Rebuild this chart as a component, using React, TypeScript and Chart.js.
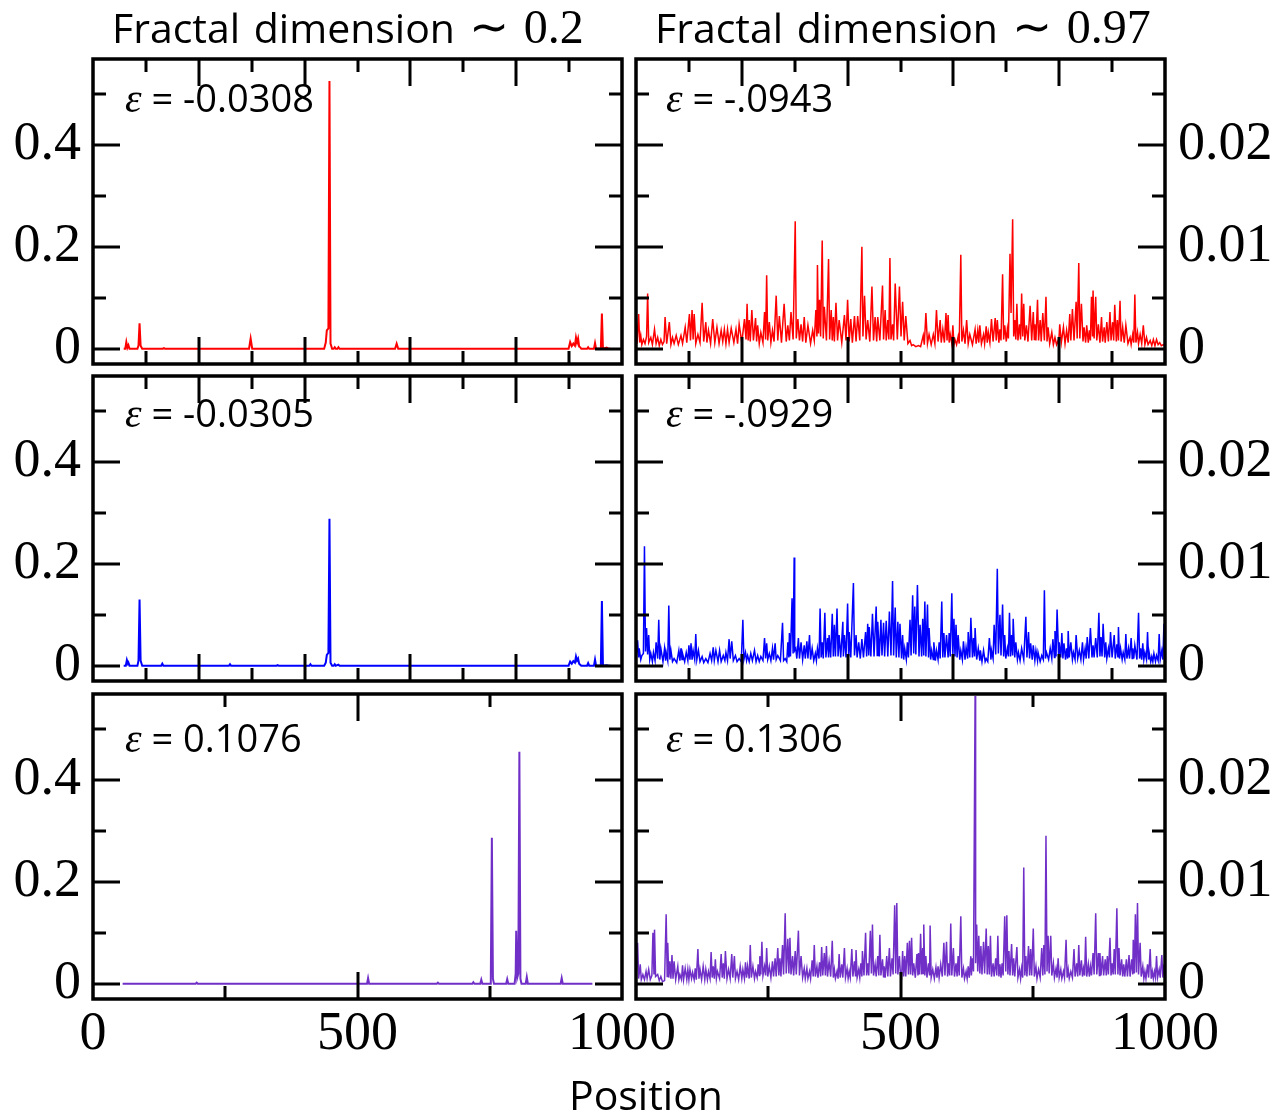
import { useEffect, useRef } from 'react';
import { Chart, registerables } from 'chart.js';

Chart.register(...registerables);

// ---------------- data ----------------
// x axis (position along the chain)
const X_TICKS_UPPER = [0, 100, 200, 300, 400, 500, 600, 700, 800, 900, 1000];
const X_MAJOR_UPPER = [200, 400, 600, 800];
const X_TICKS_LOWER = [0, 250, 500, 750, 1000];
const X_MAJOR_LOWER = [500];
const X_LABEL_VALUES_LEFT = [0, 500, 1000];
const X_LABELS_LEFT = ['0', '500', '1000'];
const X_LABEL_VALUES_RIGHT = [500, 1000];
const X_LABELS_RIGHT = ['500', '1000'];
const X_TITLE = 'Position';

// y axes
const Y_RANGE_LEFT = [-0.03, 0.568];
const Y_TICKS_LEFT = [0, 0.1, 0.2, 0.3, 0.4, 0.5];
const Y_MAJOR_LEFT = [0, 0.2, 0.4];
const Y_LABELS_LEFT = ['0', '0.2', '0.4'];
const Y_RANGE_RIGHT = [-0.0015, 0.0284];
const Y_TICKS_RIGHT = [0, 0.005, 0.01, 0.015, 0.02, 0.025];
const Y_MAJOR_RIGHT = [0, 0.01, 0.02];
const Y_LABELS_RIGHT = ['0', '0.01', '0.02'];

// column titles and panel annotations
const TITLE_TEXT = ['Fractal dimension', 'Fractal dimension'];
const TITLE_VALUE = ['\u223C 0.2', '\u223C 0.97'];
const EPS_LEFT = ['-0.0308', '-0.0305', '0.1076'];
const EPS_RIGHT = ['-.0943', '-.0929', '0.1306'];

// series: [position, value]
const RED_LEFT: [number, number][] = [
  [58, 0], [61, 0], [63, 0.013], [65, 0.002], [67, 0.007], [69, 0], [84, 0], [86, 0.006], [88, 0.05], [90, 0.006], [93, 0],
  [132, 0], [134, 0.001], [136, 0], [295, 0], [298, 0.02], [301, 0], [437, 0], [440, 0.012], [442, 0.036], [445, 0.04],
  [447, 0.525], [449, 0.01], [452, 0], [455, 0], [457, 0.003], [459, 0], [462, 0], [464, 0.003], [466, 0], [571, 0],
  [574, 0.01], [577, 0], [899, 0], [902, 0.013], [905, 0.005], [908, 0.01], [911, 0.006], [913, 0.022], [915, 0.012],
  [917, 0.02], [919, 0.004], [921, 0.003], [923, 0], [934, 0], [936, 0.003], [938, 0], [947, 0], [949, 0.011], [951, 0],
  [960, 0], [962, 0.069], [964, 0], [971, 0.002], [974, 0], [978, 0],
];

const BLUE_LEFT: [number, number][] = [
  [58, 0], [62, 0], [64, 0.011], [66, 0.004], [67, 0.006], [69, 0], [84, 0], [86, 0.01], [88, 0.13], [90, 0.01], [93, 0],
  [129, 0], [131, 0.004], [133, 0], [257, 0], [259, 0.003], [261, 0], [347, 0], [349, 0.001], [351, 0], [409, 0],
  [411, 0.003], [413, 0], [437, 0], [440, 0.006], [442, 0.021], [445, 0.025], [447, 0.288], [449, 0.006], [452, 0],
  [455, 0], [457, 0.003], [459, 0], [464, 0.002], [466, 0], [899, 0], [902, 0.008], [905, 0.004], [908, 0.009],
  [911, 0.006], [913, 0.018], [915, 0.01], [917, 0.014], [919, 0.004], [921, 0.002], [923, 0], [934, 0], [936, 0.005],
  [938, 0], [947, 0], [949, 0.012], [951, 0], [960, 0], [962, 0.127], [964, 0], [971, 0.001], [974, 0], [978, 0],
];

const PURPLE_LEFT: [number, number][] = [
  [56, 0], [194, 0], [196, 0.002], [198, 0], [518, 0], [520, 0.011], [522, 0], [650, 0], [652, 0.002], [654, 0],
  [717, 0], [719, 0.003], [721, 0], [732, 0], [734, 0.008], [736, 0], [751, 0], [752, 0.01], [754, 0.286], [756, 0.01],
  [758, 0], [781, 0], [783, 0.009], [785, 0], [797, 0], [799, 0.02], [800, 0.104], [802, 0.012], [804, 0.02],
  [806, 0.455], [808, 0.01], [810, 0], [818, 0], [820, 0.013], [822, 0], [884, 0], [886, 0.011], [888, 0], [944, 0],
];

const RED_RIGHT: [number, number][] = [
  [0, .0036], [2, .0005], [5, .0034], [7, .0006], [9, .0013], [11, .0004], [14, .0009], [17, .0005], [20, .0012], [22, .0054],
  [24, .0006], [28, .0011], [31, .0004], [35, .0019], [38, .0005], [41, .0011], [44, .0003], [47, .0009], [50, .0004], [53, .0007],
  [55, .0031], [58, .0005], [63, .0026], [66, .0004], [69, .0011], [72, .0005], [76, .0013], [80, .0004], [85, .0013], [88, .0005],
  [93, .0021], [96, .0006], [101, .0034], [103, .0008], [106, .0038], [108, .0009], [110, .0034], [113, .0005], [117, .0014],
  [121, .0006], [125, .0045], [128, .0007], [132, .0026], [134, .0006], [137, .0018], [141, .0005], [145, .0029], [149, .0006],
  [153, .0021], [157, .0005], [161, .0018], [164, .0007], [167, .0019], [170, .0005], [173, .0019], [176, .0006], [180, .002],
  [185, .0006], [189, .0019], [192, .0005], [195, .0024], [200, .0006], [205, .0029], [208, .0009], [210, .0044], [212, .0008],
  [214, .0028], [216, .0007], [219, .0038], [222, .0008], [226, .003], [228, .0007], [230, .0023], [233, .0005], [236, .0016],
  [240, .0006], [243, .0036], [245, .0009], [247, .0072], [249, .0008], [252, .0026], [255, .0006], [258, .0018], [261, .0007],
  [265, .0052], [268, .0008], [271, .0032], [275, .0006], [280, .0044], [284, .0007], [287, .0023], [290, .0008], [293, .0036],
  [297, .0009], [301, .0125], [303, .001], [306, .0029], [309, .0008], [312, .0024], [315, .0007], [318, .0031], [321, .0006],
  [325, .0023], [330, .0005], [334, .0018], [337, .0008], [340, .0038], [342, .0012], [343, .0082], [345, .0015], [347, .0048],
  [349, .0012], [352, .0106], [354, .001], [356, .0041], [360, .0008], [364, .0088], [366, .0009], [369, .0038], [371, .0008],
  [373, .0031], [375, .0007], [378, .0045], [381, .0008], [384, .0028], [389, .0006], [394, .0033], [397, .0008], [400, .0048],
  [403, .0007], [406, .0029], [409, .0006], [413, .0032], [416, .0007], [419, .0032], [423, .0008], [427, .01], [429, .0012],
  [432, .0052], [435, .0009], [438, .0028], [442, .0007], [446, .0061], [449, .0008], [452, .0031], [455, .0007], [457, .0031],
  [461, .0008], [466, .0062], [468, .0009], [471, .0038], [473, .0008], [476, .0028], [478, .0009], [480, .0089], [482, .0009],
  [485, .0024], [487, .0008], [490, .0064], [494, .0009], [498, .0061], [501, .0012], [504, .0046], [507, .0008], [510, .0032],
  [514, .0005], [518, .0008], [521, .0003], [524, .0004], [529, .0002], [534, .0003], [538, .0002], [543, .0013], [545, .0004],
  [548, .0035], [551, .0005], [554, .0014], [558, .0004], [562, .0014], [565, .0005], [568, .0038], [571, .0007], [575, .0028],
  [577, .0006], [580, .0019], [583, .0006], [586, .0035], [588, .0008], [590, .0033], [592, .0006], [594, .0014], [597, .0005],
  [599, .0023], [601, .0004], [603, .0009], [606, .0004], [609, .0012], [611, .0005], [614, .0092], [616, .0007], [619, .0018],
  [622, .0005], [625, .0028], [628, .0005], [631, .0014], [636, .0004], [641, .0019], [643, .0005], [646, .0018], [648, .0006],
  [650, .0023], [653, .0005], [657, .0014], [659, .0005], [662, .0022], [664, .0006], [666, .0016], [669, .0006], [672, .0029],
  [675, .0007], [679, .003], [681, .0008], [683, .0028], [686, .0006], [688, .0019], [690, .0008], [693, .0073], [695, .0009],
  [697, .0023], [700, .0007], [702, .0019], [704, .001], [707, .0093], [709, .0035], [712, .0127], [714, .0012], [716, .0028],
  [718, .0009], [720, .0044], [722, .0008], [725, .0024], [727, .0009], [729, .0054], [731, .0012], [733, .0044], [735, .0008],
  [738, .0023], [741, .0007], [745, .0042], [748, .0008], [751, .0036], [753, .0009], [754, .0024], [756, .0008], [759, .0048],
  [761, .0008], [764, .0028], [766, .0007], [769, .0035], [772, .0008], [775, .0051], [777, .0007], [779, .0021], [782, .0005],
  [786, .0016], [789, .0004], [792, .0011], [795, .0004], [798, .0008], [799, .0004], [801, .0024], [804, .0006], [808, .0021],
  [811, .0005], [814, .0018], [817, .0006], [820, .0034], [822, .0008], [825, .0039], [828, .0008], [832, .0046], [834, .001],
  [837, .0084], [839, .001], [842, .0044], [845, .0007], [847, .0021], [850, .0006], [852, .0023], [855, .0006], [857, .0018],
  [859, .0008], [861, .0051], [863, .0012], [864, .0057], [866, .001], [869, .0051], [871, .0008], [874, .0024], [877, .0006],
  [880, .0031], [882, .0007], [885, .0021], [887, .0006], [890, .0026], [893, .0007], [896, .0036], [898, .0008], [901, .0026],
  [903, .0008], [905, .0043], [908, .0007], [910, .0028], [912, .0008], [915, .0047], [917, .0007], [920, .0021], [923, .0006],
  [926, .0023], [930, .0005], [934, .0011], [936, .0004], [939, .0014], [941, .0006], [943, .0053], [945, .0006], [948, .0016],
  [950, .0005], [953, .0014], [956, .0005], [959, .0023], [962, .0004], [965, .0011], [968, .0004], [972, .0008], [975, .0003],
  [978, .0009], [981, .0003], [984, .0009], [987, .0004], [990, .0006], [993, .0003], [997, .0004], [1000, .0003],
];

const BLUE_RIGHT: [number, number][] = [
  [0, .0006], [3, .0025], [5, .0008], [6, .0017], [9, .0006], [11, .001], [14, .0012], [16, .0117], [18, .0014], [20, .0037],
  [22, .0011], [24, .003], [26, .0006], [28, .0012], [31, .0004], [33, .0013], [36, .0005], [38, .0023], [41, .0007], [43, .0045],
  [45, .0006], [47, .0017], [51, .0004], [54, .0017], [56, .0005], [57, .0013], [60, .0005], [62, .0059], [64, .0006], [66, .0015],
  [69, .0004], [72, .0007], [77, .0003], [81, .0015], [83, .0005], [85, .0017], [87, .0006], [88, .0012], [92, .0004], [95, .0013],
  [98, .0005], [100, .002], [102, .0006], [104, .0022], [106, .0006], [108, .0015], [111, .0006], [113, .0031], [115, .0006],
  [118, .0015], [121, .0004], [125, .0009], [128, .0003], [132, .0007], [136, .0003], [140, .0012], [143, .0005], [146, .0018],
  [148, .0005], [151, .0015], [155, .0004], [158, .0015], [161, .0004], [165, .001], [168, .0005], [170, .0013], [173, .0005],
  [176, .0026], [178, .0007], [181, .0024], [184, .0005], [188, .001], [191, .0004], [195, .0007], [199, .0004], [202, .0045],
  [204, .0006], [207, .0013], [209, .0005], [211, .001], [214, .0004], [217, .0012], [220, .0005], [224, .0015], [227, .0004],
  [230, .001], [233, .0004], [236, .0009], [240, .0005], [243, .0027], [245, .0007], [247, .0022], [249, .0006], [252, .0012],
  [255, .0005], [258, .0017], [260, .0006], [263, .0022], [265, .0006], [268, .001], [273, .0005], [277, .0042], [279, .0005],
  [282, .0007], [285, .0004], [287, .0023], [289, .0008], [290, .0032], [292, .0009], [295, .0066], [297, .0012], [299, .0106],
  [300, .0015], [302, .0017], [304, .0007], [307, .0027], [309, .0007], [312, .0023], [315, .0006], [318, .002], [320, .0007],
  [323, .0024], [325, .0007], [328, .003], [330, .0006], [333, .0017], [336, .0005], [339, .0012], [341, .0005], [343, .0017],
  [346, .0007], [348, .0056], [350, .0008], [352, .0023], [354, .0007], [357, .0052], [359, .0008], [362, .0027], [364, .0008],
  [365, .003], [368, .0008], [371, .0051], [373, .0009], [375, .004], [377, .0009], [380, .0056], [382, .0009], [384, .003],
  [387, .0008], [391, .0043], [392, .0009], [394, .003], [397, .0008], [400, .0061], [402, .0009], [403, .0033], [406, .0008],
  [411, .0081], [413, .001], [416, .003], [418, .0008], [421, .0023], [424, .0007], [427, .0026], [430, .0008], [434, .0033],
  [436, .0009], [438, .0041], [440, .001], [441, .0038], [444, .0009], [447, .0051], [450, .0009], [454, .0058], [456, .001],
  [457, .0043], [460, .0009], [463, .0045], [465, .001], [468, .0042], [470, .0009], [473, .0044], [476, .0009], [479, .0053],
  [482, .001], [485, .0083], [487, .001], [490, .0057], [492, .0008], [495, .0043], [497, .0008], [499, .0041], [502, .0007],
  [504, .003], [506, .0006], [508, .0017], [511, .0006], [513, .0023], [515, .0008], [518, .0045], [520, .001], [523, .0069],
  [525, .0012], [527, .0058], [529, .0011], [532, .0079], [535, .0009], [537, .004], [540, .0009], [542, .0046], [544, .001],
  [546, .0063], [548, .0009], [551, .006], [553, .0008], [554, .0037], [557, .0006], [559, .0015], [562, .0006], [563, .0023],
  [566, .0005], [568, .0015], [571, .0006], [573, .0023], [575, .0007], [578, .0063], [580, .0008], [582, .0032], [584, .0008],
  [587, .003], [590, .0008], [592, .0032], [594, .0009], [597, .0071], [599, .001], [601, .0046], [603, .0009], [605, .004],
  [607, .0008], [609, .003], [612, .0006], [614, .0015], [617, .0006], [619, .0024], [622, .0006], [624, .0018], [627, .0007],
  [628, .0033], [631, .0008], [633, .0047], [636, .0008], [638, .0027], [640, .0009], [641, .0037], [644, .0006], [647, .0017],
  [650, .0005], [651, .0015], [654, .0004], [657, .0015], [660, .0004], [662, .0007], [665, .0004], [668, .0027], [671, .0006],
  [672, .0015], [675, .0007], [677, .004], [680, .0011], [683, .0095], [685, .0012], [688, .005], [690, .001], [693, .006],
  [695, .0009], [697, .003], [699, .0007], [702, .0017], [704, .0009], [706, .0052], [708, .0009], [710, .003], [712, .001],
  [713, .0046], [716, .0008], [718, .0023], [721, .0006], [723, .0013], [726, .0005], [729, .0017], [733, .0006], [737, .0048],
  [739, .0008], [742, .0033], [744, .0007], [746, .0022], [749, .0006], [751, .002], [754, .0005], [756, .0015], [759, .0005],
  [760, .0013], [764, .0004], [767, .001], [770, .0006], [772, .0074], [774, .0007], [776, .0013], [780, .0006], [783, .0017],
  [786, .0007], [788, .0026], [791, .0008], [792, .0034], [794, .0009], [796, .0055], [799, .0008], [800, .0023], [803, .0008],
  [805, .0032], [807, .0007], [809, .0022], [812, .0006], [814, .0017], [816, .0007], [817, .0034], [819, .0008], [822, .0023],
  [825, .0006], [827, .0013], [830, .0006], [832, .003], [835, .0007], [838, .0015], [841, .0006], [844, .0023], [846, .0006],
  [849, .0017], [851, .0007], [853, .0028], [856, .0007], [859, .0037], [862, .0008], [864, .002], [866, .0008], [869, .0027],
  [872, .0008], [875, .0052], [877, .0009], [879, .0028], [881, .0009], [883, .0041], [886, .0008], [888, .0023], [890, .0007],
  [893, .0017], [895, .0008], [897, .0033], [900, .0008], [904, .003], [906, .0007], [909, .0021], [911, .0008], [912, .0038],
  [914, .0007], [916, .0017], [919, .0006], [921, .0013], [924, .0006], [926, .0031], [928, .0007], [931, .0017], [933, .0007],
  [936, .0027], [938, .0007], [939, .0017], [941, .0007], [943, .002], [947, .0006], [950, .0052], [952, .0007], [954, .0017],
  [956, .0006], [958, .0022], [960, .0006], [962, .0013], [965, .0006], [967, .0033], [969, .0006], [970, .0013], [973, .0004],
  [975, .0009], [977, .0004], [979, .0012], [982, .0004], [984, .001], [987, .0005], [989, .0031], [991, .0006], [994, .0015],
  [996, .0006], [998, .0041], [1000, .0008],
];

const PURPLE_RIGHT: [number, number][] = [
  [0, .0006], [3, .004], [5, .0005], [8, .0019], [10, .0004], [13, .0009], [16, .0004], [19, .0012], [21, .0005], [24, .0014],
  [27, .0004], [30, .0008], [32, .005], [34, .0009], [35, .0053], [37, .0007], [41, .0009], [44, .0003], [47, .0007], [50, .0002],
  [54, .0003], [57, .0068], [59, .0007], [60, .004], [62, .0006], [64, .0022], [66, .0005], [68, .0028], [70, .0005], [72, .0022],
  [75, .0004], [79, .0017], [81, .0004], [83, .0009], [86, .0004], [88, .0018], [90, .0004], [93, .0015], [96, .0004], [98, .0014],
  [100, .0004], [102, .0014], [105, .0005], [107, .0011], [110, .0004], [112, .0015], [114, .0004], [117, .0034], [119, .0005],
  [121, .0014], [124, .0004], [127, .0017], [130, .0004], [132, .0014], [135, .0004], [137, .0012], [140, .0005], [142, .0031],
  [144, .0006], [146, .0017], [148, .0005], [150, .0024], [152, .0005], [154, .0012], [158, .0005], [161, .0029], [163, .0006],
  [165, .002], [167, .0005], [169, .0032], [172, .0005], [175, .0014], [178, .0005], [181, .0029], [183, .0006], [186, .0027],
  [188, .0005], [191, .0012], [194, .0004], [197, .0017], [200, .0005], [202, .0014], [205, .0005], [207, .0021], [209, .0006],
  [211, .0017], [214, .0005], [216, .0038], [218, .0006], [221, .0017], [224, .0005], [226, .0012], [229, .0006], [231, .0019],
  [233, .0008], [234, .0027], [236, .0009], [238, .0041], [240, .0008], [243, .0017], [245, .0008], [247, .0035], [249, .0007],
  [252, .0017], [255, .0006], [258, .0022], [260, .0007], [263, .0025], [265, .0007], [268, .0035], [270, .0008], [272, .0025],
  [274, .0007], [277, .0038], [279, .0009], [282, .0069], [284, .001], [287, .0044], [289, .001], [291, .0045], [293, .0009],
  [296, .0027], [298, .0008], [301, .0032], [303, .0009], [307, .0052], [309, .0008], [312, .0027], [315, .0006], [318, .0015],
  [320, .0005], [323, .0015], [325, .0005], [328, .0012], [330, .0005], [333, .0023], [335, .0007], [337, .0038], [339, .0007],
  [342, .0017], [344, .0006], [347, .0021], [349, .0007], [351, .0036], [353, .0008], [356, .003], [358, .0008], [360, .0037],
  [362, .0007], [365, .0022], [368, .0007], [371, .0042], [373, .0006], [375, .0014], [377, .0005], [380, .0012], [382, .0005],
  [384, .0029], [386, .0006], [389, .0019], [391, .0006], [394, .0035], [396, .0006], [399, .0015], [401, .0005], [403, .0012],
  [405, .0006], [408, .0034], [410, .0007], [413, .0022], [415, .0007], [416, .0033], [418, .0006], [421, .0014], [423, .0006],
  [425, .002], [427, .0007], [428, .0032], [431, .0008], [434, .005], [436, .0008], [438, .002], [440, .0008], [443, .0052],
  [445, .001], [447, .0058], [449, .0008], [452, .0019], [454, .0007], [457, .0027], [459, .0008], [461, .0048], [463, .0008],
  [466, .0024], [468, .0006], [469, .0017], [471, .0006], [474, .0027], [476, .0007], [479, .0035], [481, .0007], [484, .0025],
  [486, .0009], [489, .0077], [491, .001], [493, .0079], [495, .0009], [498, .0027], [500, .0008], [502, .0006], [504, .0032],
  [506, .0007], [508, .0027], [510, .0007], [513, .004], [515, .0009], [517, .0042], [519, .0009], [521, .0045], [523, .0008],
  [525, .002], [528, .0006], [531, .0029], [533, .0008], [534, .003], [536, .0009], [538, .0049], [540, .0009], [542, .0035],
  [543, .001], [544, .0058], [546, .0008], [548, .0027], [550, .0006], [553, .002], [555, .0008], [556, .0057], [558, .0006],
  [561, .0014], [564, .0005], [567, .0016], [569, .0006], [571, .0017], [573, .0006], [576, .0019], [579, .0007], [582, .004],
  [584, .0008], [587, .0041], [589, .0007], [591, .002], [593, .0008], [595, .0059], [597, .0008], [600, .0035], [602, .0007],
  [605, .002], [607, .0007], [609, .0027], [611, .0008], [614, .0066], [616, .0006], [619, .0015], [621, .0005], [624, .0012],
  [626, .0005], [628, .0017], [630, .0006], [633, .0027], [634, .0008], [636, .0025], [638, .0012], [641, .0282], [642, .002],
  [644, .0058], [646, .0012], [648, .0047], [650, .001], [652, .0037], [654, .0009], [657, .0041], [659, .001], [662, .0054],
  [664, .0009], [666, .0037], [668, .0009], [670, .0047], [672, .0007], [675, .002], [677, .0007], [680, .0025], [682, .0008],
  [684, .0047], [686, .0007], [688, .0019], [690, .0006], [692, .002], [694, .0008], [697, .0066], [699, .0012], [701, .0067],
  [703, .0009], [705, .0032], [707, .0008], [710, .0039], [712, .0008], [714, .0025], [716, .0007], [720, .0036], [722, .0006],
  [725, .0014], [727, .0005], [729, .0015], [731, .0006], [733, .0114], [735, .0008], [737, .0027], [739, .0007], [742, .0037],
  [744, .0008], [746, .0034], [748, .0008], [751, .0054], [753, .0007], [756, .0017], [758, .0005], [761, .0014], [764, .0006],
  [767, .0035], [769, .0008], [771, .0038], [773, .0009], [775, .0145], [777, .0012], [779, .0047], [781, .001], [784, .0047],
  [786, .0008], [789, .002], [791, .0006], [794, .0015], [796, .0006], [798, .0025], [800, .0006], [803, .0014], [805, .0005],
  [808, .0012], [810, .0006], [813, .0043], [815, .0006], [817, .0014], [819, .0005], [822, .0012], [825, .0006], [828, .0034],
  [830, .0007], [833, .002], [835, .0007], [837, .0038], [839, .0008], [842, .0023], [844, .0007], [846, .0015], [848, .0008],
  [850, .0046], [852, .0007], [855, .0019], [857, .0007], [859, .0017], [861, .0008], [864, .003], [866, .0009], [869, .0069],
  [871, .0009], [874, .003], [876, .0008], [877, .003], [879, .0008], [882, .0027], [884, .0008], [887, .0024], [889, .0008],
  [891, .0027], [893, .0009], [896, .0045], [898, .0008], [900, .002], [902, .0009], [904, .0034], [906, .0009], [909, .0074],
  [911, .0009], [913, .0035], [915, .0008], [918, .0024], [920, .0007], [922, .0019], [924, .0007], [927, .0024], [929, .0007],
  [932, .0028], [934, .0007], [937, .0024], [939, .0009], [940, .0043], [942, .001], [944, .0068], [946, .0011], [948, .0079],
  [950, .0009], [953, .004], [955, .0007], [958, .0017], [960, .0005], [962, .0012], [964, .0005], [967, .0019], [969, .0006],
  [972, .0034], [974, .0005], [976, .0012], [978, .0005], [980, .0012], [982, .0006], [984, .0027], [986, .0006], [989, .0014],
  [991, .0006], [994, .0028], [996, .0006], [998, .0019], [1000, .0008],
];

// ---------------- layout & style ----------------
const PAGE_W = 1280;
const PAGE_H = 1114;
const COL_EDGES = [[93, 622], [636, 1165]];
const ROW_EDGES = [[59, 364], [376, 681], [694, 999]];
const RED = '#ff0000';
const BLUE = '#0000ff';
const PURPLE = '#7030c8';
const TICK_FONT = 'Liberation Serif, Times New Roman, serif';
const SANS = '"Open Sans", "Noto Sans", sans-serif';
const MAJOR_LEN = 27;
const MINOR_LEN = 13;

type Spec = { row: number; col: number; data: [number, number][]; color: string; width: number };

const PANELS: Spec[] = [
  { row: 0, col: 0, data: RED_LEFT, color: RED, width: 2 },
  { row: 1, col: 0, data: BLUE_LEFT, color: BLUE, width: 2 },
  { row: 2, col: 0, data: PURPLE_LEFT, color: PURPLE, width: 2 },
  { row: 0, col: 1, data: RED_RIGHT, color: RED, width: 1.5 },
  { row: 1, col: 1, data: BLUE_RIGHT, color: BLUE, width: 1.5 },
  { row: 2, col: 1, data: PURPLE_RIGHT, color: PURPLE, width: 1.5 },
];

function framePlugin(xMajor: number[], yMajor: number[]) {
  return {
    id: 'frame',
    afterDatasetsDraw(chart: any) {
      const { ctx, chartArea: a, scales } = chart;
      const xs = scales.x;
      const ys = scales.y;
      ctx.save();
      ctx.strokeStyle = '#000';
      ctx.lineCap = 'butt';
      ctx.lineWidth = 3;
      ctx.beginPath();
      for (const t of xs.ticks) {
        if (t.value <= xs.min || t.value >= xs.max) continue;
        const px = Math.round(xs.getPixelForValue(t.value));
        const len = xMajor.includes(t.value) ? MAJOR_LEN : MINOR_LEN;
        ctx.moveTo(px, a.top);
        ctx.lineTo(px, a.top + len);
        ctx.moveTo(px, a.bottom);
        ctx.lineTo(px, a.bottom - len);
      }
      for (const t of ys.ticks) {
        const py = Math.round(ys.getPixelForValue(t.value));
        const len = yMajor.includes(t.value) ? MAJOR_LEN : MINOR_LEN;
        ctx.moveTo(a.left, py);
        ctx.lineTo(a.left + len, py);
        ctx.moveTo(a.right, py);
        ctx.lineTo(a.right - len, py);
      }
      ctx.stroke();
      ctx.lineWidth = 3.5;
      ctx.strokeRect(a.left, a.top, a.right - a.left, a.bottom - a.top);
      ctx.restore();
    },
  };
}

function makeConfig(spec: Spec): any {
  const [x0, x1] = COL_EDGES[spec.col];
  const [y0, y1] = ROW_EDGES[spec.row];
  const left = spec.col === 0;
  const bottom = spec.row === 2;
  const yRange = left ? Y_RANGE_LEFT : Y_RANGE_RIGHT;
  const yTicks = left ? Y_TICKS_LEFT : Y_TICKS_RIGHT;
  const yMajor = left ? Y_MAJOR_LEFT : Y_MAJOR_RIGHT;
  const yLabels = left ? Y_LABELS_LEFT : Y_LABELS_RIGHT;
  const xTicks = bottom ? X_TICKS_LOWER : X_TICKS_UPPER;
  const xMajor = bottom ? X_MAJOR_LOWER : X_MAJOR_UPPER;
  const xLabelValues = left ? X_LABEL_VALUES_LEFT : X_LABEL_VALUES_RIGHT;
  const xLabels = left ? X_LABELS_LEFT : X_LABELS_RIGHT;

  return {
    type: 'line',
    data: {
      datasets: [
        {
          data: spec.data.map(([x, y]) => ({ x, y })),
          borderColor: spec.color,
          borderWidth: spec.width,
          pointRadius: 0,
          tension: 0,
          fill: false,
        },
      ],
    },
    options: {
      animation: false,
      responsive: false,
      devicePixelRatio: 1,
      events: [],
      layout: {
        padding: {
          left: left ? 0 : x0,
          right: left ? PAGE_W - x1 : 0,
          top: y0,
          bottom: 0,
        },
      },
      plugins: { legend: { display: false }, tooltip: { enabled: false } },
      scales: {
        x: {
          type: 'linear',
          min: 0,
          max: 1000,
          afterBuildTicks: (s: any) => {
            s.ticks = xTicks.map((v) => ({ value: v }));
          },
          afterFit: (s: any) => {
            s.height = PAGE_H - y1;
          },
          ticks: {
            display: bottom,
            autoSkip: false,
            maxRotation: 0,
            minRotation: 0,
            padding: 3,
            color: '#000',
            font: { family: TICK_FONT, size: 54 },
            callback: (v: number) => {
              const i = xLabelValues.indexOf(v);
              return i >= 0 ? xLabels[i] : '';
            },
          },
          grid: { display: false, drawTicks: false },
          border: { display: false },
        },
        y: {
          type: 'linear',
          position: left ? 'left' : 'right',
          min: yRange[0],
          max: yRange[1],
          afterBuildTicks: (s: any) => {
            s.ticks = yTicks.map((v) => ({ value: v }));
          },
          afterFit: (s: any) => {
            s.width = left ? x0 : PAGE_W - x1;
          },
          ticks: {
            autoSkip: false,
            padding: left ? 12 : 13,
            color: '#000',
            font: { family: TICK_FONT, size: 54 },
            callback: (v: number) => {
              const i = yMajor.indexOf(v);
              return i >= 0 ? yLabels[i] : '';
            },
          },
          grid: { display: false, drawTicks: false },
          border: { display: false },
        },
      },
    },
    plugins: [framePlugin(xMajor, yMajor)],
  };
}

function Panel({ spec }: { spec: Spec }) {
  const ref = useRef<HTMLCanvasElement>(null);
  useEffect(() => {
    const chart = new Chart(ref.current as HTMLCanvasElement, makeConfig(spec));
    return () => chart.destroy();
  }, [spec]);
  return (
    <canvas
      ref={ref}
      width={PAGE_W}
      height={PAGE_H}
      style={{ position: 'absolute', left: 0, top: 0 }}
    />
  );
}

const TITLE_LEFTS = [112, 655];
const EPS_TOPS = [78, 393, 718];
const EPS_LEFTS = [125, 666];

export default function App() {
  return (
    <div
      style={{
        position: 'absolute',
        left: 0,
        top: 0,
        width: PAGE_W,
        height: PAGE_H,
        background: '#fff',
        overflow: 'hidden',
      }}
    >
      {PANELS.map((p, i) => (
        <Panel key={i} spec={p} />
      ))}
      {TITLE_TEXT.map((t, i) => (
        <div
          key={'t' + i}
          style={{
            position: 'absolute',
            left: TITLE_LEFTS[i],
            top: 6,
            fontFamily: SANS,
            fontSize: 41,
            lineHeight: '41px',
            whiteSpace: 'nowrap',
            color: '#000',
            wordSpacing: 3,
          }}
        >
          {t + ' '}
          <span style={{ fontFamily: TICK_FONT, fontSize: 48 }}>{TITLE_VALUE[i]}</span>
        </div>
      ))}
      {[EPS_LEFT, EPS_RIGHT].map((col, c) =>
        col.map((e, r) => (
          <div
            key={'e' + c + r}
            style={{
              position: 'absolute',
              left: EPS_LEFTS[c],
              top: EPS_TOPS[r],
              fontFamily: SANS,
              fontSize: 38,
              lineHeight: '38px',
              whiteSpace: 'nowrap',
              color: '#000',
            }}
          >
            <span style={{ fontFamily: TICK_FONT, fontStyle: 'italic', fontSize: 42 }}>{'\u03B5'}</span>
            {' = ' + e}
          </div>
        ))
      )}
      <div
        style={{
          position: 'absolute',
          left: 569,
          top: 1074,
          fontFamily: SANS,
          fontSize: 41,
          lineHeight: '41px',
          whiteSpace: 'nowrap',
          color: '#000',
        }}
      >
        {X_TITLE}
      </div>
    </div>
  );
}
